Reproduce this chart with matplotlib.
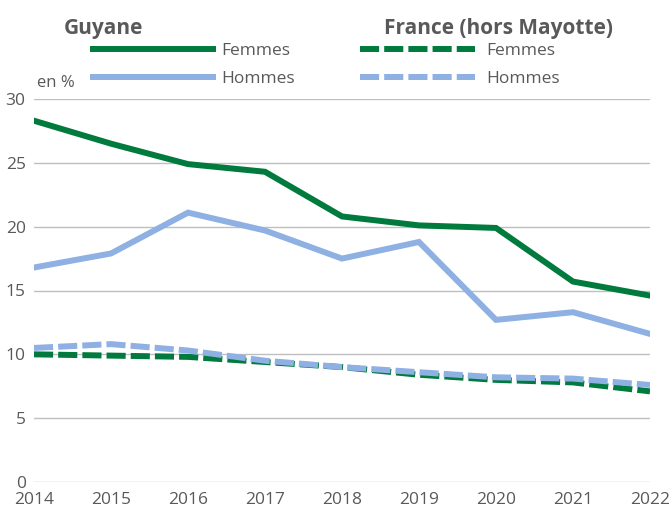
import matplotlib.pyplot as plt
from matplotlib.lines import Line2D

plt.rcParams['font.family'] = ['Open Sans', 'DejaVu Sans']

years = [2014, 2015, 2016, 2017, 2018, 2019, 2020, 2021, 2022]
guyane_femmes = [28.3, 26.5, 24.9, 24.3, 20.8, 20.1, 19.9, 15.7, 14.6]
guyane_hommes = [16.8, 17.9, 21.1, 19.7, 17.5, 18.8, 12.7, 13.3, 11.6]
france_femmes = [10.0, 9.9, 9.8, 9.4, 9.0, 8.4, 8.0, 7.8, 7.1]
france_hommes = [10.5, 10.8, 10.3, 9.5, 9.0, 8.6, 8.2, 8.1, 7.6]
yticks = [0, 5, 10, 15, 20, 25, 30]

green = "#007A3D"
blue = "#8EB0E2"
grey = "#595959"
lw = 4.3
dash = (3.2, 0.85)

fig = plt.figure(figsize=(6.72, 5.11), dpi=100)
ax = fig.add_axes([34 / 672, 1 - 482 / 511, 616 / 672, 383 / 511])

ax.plot(years, guyane_femmes, color=green, lw=lw, solid_joinstyle="miter")
ax.plot(years, guyane_hommes, color=blue, lw=lw, solid_joinstyle="miter")
ax.plot(years, france_femmes, color=green, lw=lw, dashes=dash, dash_capstyle="butt")
ax.plot(years, france_hommes, color=blue, lw=lw, dashes=dash, dash_capstyle="butt")

ax.set_xlim(2014, 2022)
ax.set_ylim(0, 30)
ax.set_xticks(years)
ax.set_yticks(yticks)
ax.grid(axis="y", color="#BFBFBF", lw=1)
ax.set_axisbelow(True)
for s in ax.spines.values():
    s.set_visible(False)
ax.tick_params(length=0, labelsize=12.5, colors=grey)
ax.tick_params(axis="x", pad=7)
ax.tick_params(axis="y", pad=6)

ax.text(0.005, 1.02, "en %", transform=ax.transAxes, fontsize=12, color=grey,
        ha="left", va="bottom")

# legend headers
fig.text(103 / 672, 1 - 34 / 511, "Guyane", fontsize=15, fontweight="bold",
         color=grey, ha="center", va="baseline")
fig.text(498 / 672, 1 - 34 / 511, "France (hors Mayotte)", fontsize=15,
         fontweight="bold", color=grey, ha="center", va="baseline")

h1 = [Line2D([], [], color=green, lw=lw), Line2D([], [], color=blue, lw=lw)]
h2 = [Line2D([], [], color=green, lw=lw, dashes=dash, dash_capstyle="butt"),
      Line2D([], [], color=blue, lw=lw, dashes=dash, dash_capstyle="butt")]
leg1 = fig.legend(h1, ["Femmes", "Hommes"], loc="upper left",
                  bbox_to_anchor=(86 / 672, 1 - 36 / 511), frameon=False,
                  handlelength=6.9, handletextpad=0.5, labelspacing=0.7,
                  fontsize=12.5, labelcolor=grey, borderaxespad=0)
leg2 = fig.legend(h2, ["Femmes", "Hommes"], loc="upper left",
                  bbox_to_anchor=(353 / 672, 1 - 36 / 511), frameon=False,
                  handlelength=6.6, handletextpad=0.7, labelspacing=0.7,
                  fontsize=12.5, labelcolor=grey, borderaxespad=0)

fig.savefig("out.png", dpi=100)
